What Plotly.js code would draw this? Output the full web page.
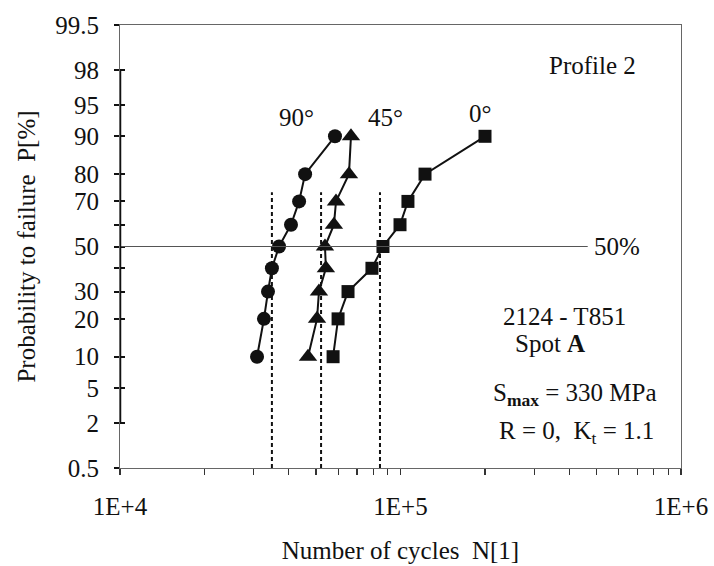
<!DOCTYPE html>
<html><head><meta charset="utf-8">
<script src="https://cdn.plot.ly/plotly-3.0.1.min.js"></script>
<style>html,body{margin:0;padding:0;background:#fff}</style>
</head><body><div id="chart" style="width:714px;height:566px"></div>
<script>
// ---- data ----
const probabilities = [10, 20, 30, 40, 50, 60, 70, 80, 90];           // P [%]
const cycles90 = [30800, 32600, 33700, 34800, 36900, 40700, 43500, 45700, 58400];
const cycles45 = [46800, 50400, 51200, 54200, 53800, 57900, 58900, 65500, 66600];
const cycles0  = [57500, 59900, 65000, 79100, 86600, 99600, 106300, 122300, 200100];
const meanCycles = [34800, 52100, 84500];   // dashed verticals (50% life)
const meanLineTopP = 73.6;
const refLineP = 50;
const refLineEndN = 465000;
const seriesNames = ['90°', '45°', '0°'];
const pTicks = [0.5, 2, 5, 10, 20, 30, 50, 70, 80, 90, 95, 98, 99.5];
const pTickLabels = ['0.5', '2', '5', '10', '20', '30', '50', '70', '80', '90', '95', '98', '99.5'];
const pMinorTicks = [40, 60];
const nTicks = [1e4, 1e5, 1e6];
const nTickLabels = ['1E+4', '1E+5', '1E+6'];
const nMinorTicks = [2e4, 3e4, 4e4, 5e4, 6e4, 7e4, 8e4, 9e4, 2e5, 3e5, 4e5, 5e5, 6e5, 7e5, 8e5, 9e5];

// inverse standard normal CDF (Acklam) for the probability scale
function probit(p) {
  const a = [-3.969683028665376e+01, 2.209460984245205e+02, -2.759285104469687e+02, 1.383577518672690e+02, -3.066479806614716e+01, 2.506628277459239e+00];
  const b = [-5.447609879822406e+01, 1.615858368580409e+02, -1.556989798598866e+02, 6.680131188771972e+01, -1.328068155288572e+01];
  const c = [-7.784894002430293e-03, -3.223964580411365e-01, -2.400758277161838e+00, -2.549732539343734e+00, 4.374664141464968e+00, 2.938163982698783e+00];
  const d = [7.784695709041462e-03, 3.224671290700398e-01, 2.445134137142996e+00, 3.754408661907416e+00];
  const pl = 0.02425;
  let q, r;
  if (p < pl) { q = Math.sqrt(-2 * Math.log(p));
    return (((((c[0]*q+c[1])*q+c[2])*q+c[3])*q+c[4])*q+c[5]) / ((((d[0]*q+d[1])*q+d[2])*q+d[3])*q+1); }
  if (p > 1 - pl) { q = Math.sqrt(-2 * Math.log(1 - p));
    return -(((((c[0]*q+c[1])*q+c[2])*q+c[3])*q+c[4])*q+c[5]) / ((((d[0]*q+d[1])*q+d[2])*q+d[3])*q+1); }
  q = p - 0.5; r = q * q;
  return (((((a[0]*r+a[1])*r+a[2])*r+a[3])*r+a[4])*r+a[5])*q / (((((b[0]*r+b[1])*r+b[2])*r+b[3])*r+b[4])*r+1);
}
const z = p => probit(p / 100);

const FONT = 'Liberation Serif, Times New Roman, serif';
const zProb = probabilities.map(z);
const mk = (x, sym, size, name) => ({
  x: x, y: zProb, type: 'scatter', mode: 'lines+markers', name: name,
  line: {color: '#111', width: 2},
  marker: {symbol: sym, size: size, color: '#111'},
  hoverinfo: 'skip', showlegend: false
});

const traces = [
  mk(cycles90, 'circle', 14, seriesNames[0]),
  mk(cycles45, 'triangle-up', 16, seriesNames[1]),
  mk(cycles0, 'square', 13, seriesNames[2]),
  {x: [1e4, 1e6], y: [z(0.5), z(99.5)], yaxis: 'y2', type: 'scatter', mode: 'none', hoverinfo: 'skip', showlegend: false}
];

const shapes = meanCycles.map(n => ({
  type: 'line', xref: 'x', yref: 'y', x0: n, x1: n, y0: z(0.5), y1: z(meanLineTopP),
  line: {color: '#111', width: 2, dash: '4px,3px'}
}));
shapes.push({type: 'line', xref: 'x', yref: 'y', x0: 1e4, x1: refLineEndN, y0: z(refLineP), y1: z(refLineP),
  line: {color: '#555', width: 1}});
shapes.push({type: 'line', xref: 'x', yref: 'y', x0: 1e4, x1: 1e4, y0: z(2), y1: z(98),
  line: {color: '#111', width: 2.5}});

const yRange = [z(0.5), z(99.5)];
const yCommon = {
  range: yRange, tickmode: 'array', tickvals: pTicks.map(z), showgrid: false, zeroline: false,
  tickcolor: '#111', tickwidth: 2, ticklen: 5,
  minor: {tickmode: 'array', tickvals: pMinorTicks.map(z), ticklen: 5, tickwidth: 2, tickcolor: '#111', showgrid: false}
};

const annotations = [
  {text: 'Profile 2', x: 592, y: 65},
  {text: '90°', x: 296, y: 117},
  {text: '45°', x: 385, y: 117},
  {text: '0°', x: 480, y: 113},
  {text: '50%', x: 617, y: 246},
  {text: '2124 - T851', x: 564, y: 316},
  {text: 'Spot <b>A</b>', x: 550, y: 343},
  {text: 'S<sub><b>max</b></sub> = 330 MPa', x: 575, y: 394},
  {text: 'R = 0,  K<sub>t</sub> = 1.1', x: 576, y: 432}
].map(a => ({
  text: a.text, xref: 'paper', yref: 'paper',
  x: (a.x - 120) / 561, y: (468 - a.y) / 443,
  xanchor: 'center', yanchor: 'middle', showarrow: false,
  font: {family: FONT, size: 25, color: '#111'}
}));

const layout = {
  width: 714, height: 566,
  margin: {l: 120, r: 33, t: 25, b: 98},
  paper_bgcolor: '#fff', plot_bgcolor: '#fff',
  font: {family: FONT, size: 25, color: '#111'},
  hovermode: false,
  xaxis: {
    type: 'log', range: [4, 6], tickmode: 'array', tickvals: nTicks, ticktext: nTickLabels,
    ticks: 'outside', ticklen: 6, tickwidth: 1.2, tickcolor: '#333',
    minor: {tickmode: 'array', tickvals: nMinorTicks, ticks: 'outside', ticklen: 6, tickwidth: 1.2, tickcolor: '#333', showgrid: false},
    showline: true, linecolor: '#666', linewidth: 1, mirror: true,
    showgrid: false, zeroline: false, ticklabelstandoff: 10,
    tickfont: {family: FONT, size: 25, color: '#111'},
    title: {text: 'Number of cycles  N[1]', font: {family: FONT, size: 25, color: '#111'}, standoff: 22}
  },
  yaxis: Object.assign({}, yCommon, {
    ticktext: pTickLabels, ticks: 'outside',
    showline: true, linecolor: '#666', linewidth: 1, mirror: true,
    ticklabelstandoff: 10,
    tickfont: {family: FONT, size: 25, color: '#111'},
    title: {text: 'Probability to failure  P[%]', font: {family: FONT, size: 25, color: '#111'}, standoff: 12}
  }),
  yaxis2: Object.assign({}, yCommon, {
    overlaying: 'y', side: 'left', anchor: 'x', ticks: 'inside', showticklabels: false, showline: false
  }),
  shapes: shapes,
  annotations: annotations
};
layout.yaxis.minor = Object.assign({}, yCommon.minor, {ticks: 'outside'});
layout.yaxis2.minor = Object.assign({}, yCommon.minor, {ticks: 'inside'});

Plotly.newPlot('chart', traces, layout, {staticPlot: true, displayModeBar: false});
</script>
</body></html>
